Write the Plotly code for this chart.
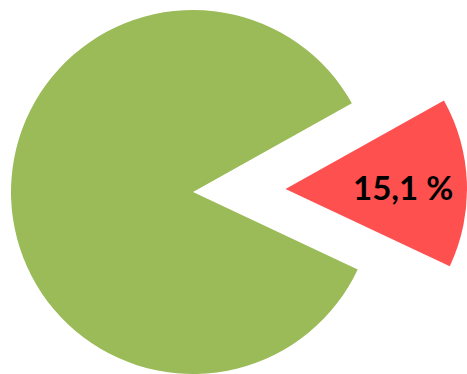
import plotly.graph_objects as go

# slice data
labels = ["Rot", "Grün"]
values = [15.1, 84.9]
slice_text = ["15,1 %", ""]
colors = ["#FF5050", "#9BBB59"]

W, H = 467, 374

fig = go.Figure()

# main pie (green visible)
fig.add_trace(go.Pie(
    labels=labels,
    values=values,
    textinfo="none",
    sort=False,
    direction="clockwise",
    rotation=60.8,
    marker=dict(colors=["rgba(0,0,0,0)", colors[1]], line=dict(width=0)),
    domain=dict(x=[11 / W, 375 / W], y=[0, 364 / H]),
    hoverinfo="skip",
    showlegend=False,
))

# exploded slice (red visible)
fig.add_trace(go.Pie(
    labels=labels,
    values=values,
    textinfo="none",
    sort=False,
    direction="clockwise",
    rotation=60.8,
    marker=dict(colors=[colors[0], "rgba(0,0,0,0)"], line=dict(width=0)),
    domain=dict(x=[104 / W, 1], y=[3.5 / H, 366.5 / H]),
    hoverinfo="skip",
    showlegend=False,
))

# label of the exploded slice
fig.add_annotation(
    x=403 / W, y=1 - 187 / H, xref="paper", yref="paper",
    text=slice_text[0], showarrow=False,
    xanchor="center", yanchor="middle",
    font=dict(family="Lato", size=33, color="black", weight="bold"),
)

fig.update_layout(
    width=W,
    height=H,
    margin=dict(l=0, r=0, t=0, b=0),
    paper_bgcolor="white",
    plot_bgcolor="white",
    showlegend=False,
)

# the page body has a default 8px margin; drop it so the chart fills the window
fig.write_html(
    "out.html",
    config={"displayModeBar": False},
    post_script="document.body.style.margin='0';document.body.style.overflow='hidden';",
)
